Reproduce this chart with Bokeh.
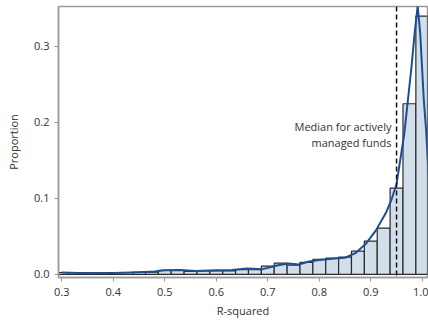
from bokeh.plotting import figure
from bokeh.models import Span, Label, Range1d, FixedTicker
from bokeh.embed import file_html
from bokeh.resources import INLINE

# Histogram of R-squared (bin width 0.025)
bin_centers = [0.300, 0.325, 0.350, 0.375, 0.400, 0.425, 0.450, 0.475, 0.500, 0.525,
               0.550, 0.575, 0.600, 0.625, 0.650, 0.675, 0.700, 0.725, 0.750, 0.775,
               0.800, 0.825, 0.850, 0.875, 0.900, 0.925, 0.950, 0.975, 1.000]
proportions = [0.0026, 0.0026, 0.0022, 0.0022, 0.0026, 0.0026, 0.0030, 0.0030, 0.0053, 0.0053,
               0.0040, 0.0046, 0.0046, 0.0046, 0.0062, 0.0062, 0.0110, 0.0149, 0.0122, 0.0160,
               0.0200, 0.0215, 0.0228, 0.0307, 0.0438, 0.0610, 0.1136, 0.2246, 0.3400]
bin_width = 0.025

# Density curve
curve_x = [0.30, 0.35, 0.40, 0.45, 0.48, 0.50, 0.53, 0.56, 0.60, 0.63, 0.66, 0.69, 0.72,
           0.74, 0.76, 0.78, 0.80, 0.83, 0.85, 0.87, 0.89, 0.91, 0.93, 0.94, 0.95, 0.965,
           0.979, 0.985, 0.991, 0.996, 1.003, 1.0075, 1.012]
curve_y = [0.0025, 0.0015, 0.0020, 0.0030, 0.0040, 0.0055, 0.0060, 0.0045, 0.0055, 0.0060,
           0.0080, 0.0070, 0.0120, 0.0145, 0.0130, 0.0170, 0.0190, 0.0210, 0.0220, 0.0280,
           0.0400, 0.0580, 0.0820, 0.0980, 0.1190, 0.1850, 0.2730, 0.3170, 0.3530, 0.3170,
           0.2290, 0.1890, 0.1330]

median_value = 0.95
median_label = "Median for actively\nmanaged funds"
y_ticks = [0.0, 0.1, 0.2, 0.3]
x_ticks = [0.3, 0.4, 0.5, 0.6, 0.7, 0.8, 0.9, 1.0]

FONT = "Open Sans"
TXT = "#333333"

p = figure(width=428, height=320, output_backend="svg", toolbar_location=None,
           x_range=Range1d(0.2936, 1.0101), y_range=Range1d(-0.004, 0.3526),
           min_border_left=58, min_border_right=1, min_border_top=6, min_border_bottom=43,
           x_axis_label="R-squared", y_axis_label="Proportion")

p.vbar(x=bin_centers, top=proportions, width=bin_width, bottom=0,
       fill_color="#d3deeb", line_color="#2b2b2b", line_width=1.2)
p.line(curve_x, curve_y, line_color="#1c4e94", line_width=2)

p.add_layout(Span(location=median_value, dimension="height", line_color="#111111",
                  line_dash="5 3", line_width=1.5))
p.add_layout(Label(x=median_value, y=0.204, x_offset=-5, text=median_label,
                   text_align="right", text_baseline="top", text_font=FONT,
                   text_font_size="11px", text_color=TXT, text_line_height=1.05))

p.grid.visible = False
p.outline_line_color = "#9a9a9a"
p.outline_line_width = 1.5
p.background_fill_color = "white"
p.border_fill_color = "white"

for ax in (p.xaxis[0], p.yaxis[0]):
    ax.axis_line_color = "#9a9a9a"
    ax.axis_line_width = 1.5
    ax.major_tick_line_color = "#9a9a9a"
    ax.major_tick_out = 4
    ax.major_tick_in = 0
    ax.minor_tick_line_color = None
    ax.major_label_text_font = FONT
    ax.major_label_text_font_size = "11px"
    ax.major_label_text_color = TXT
    ax.axis_label_text_font = FONT
    ax.axis_label_text_font_size = "11px"
    ax.axis_label_text_color = TXT
    ax.axis_label_text_font_style = "normal"

p.xaxis[0].ticker = FixedTicker(ticks=x_ticks)
p.yaxis[0].ticker = FixedTicker(ticks=y_ticks)
p.xaxis[0].major_label_overrides = {t: f"{t:.1f}" for t in x_ticks}
p.yaxis[0].major_label_overrides = {t: f"{t:.1f}" for t in y_ticks}
p.xaxis[0].major_label_standoff = 6
p.xaxis[0].axis_label_standoff = 4
p.yaxis[0].axis_label_standoff = 10

open("out.html", "w").write(file_html(p, INLINE))
